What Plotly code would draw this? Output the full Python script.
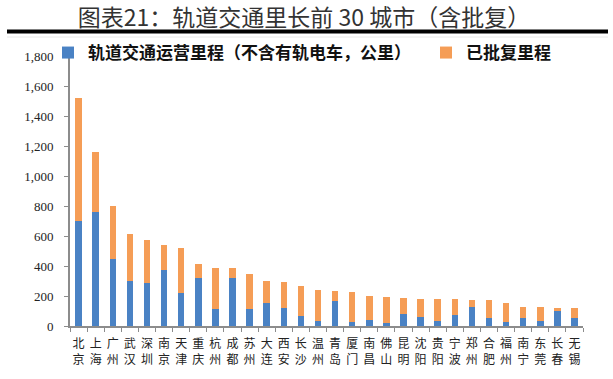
import plotly.graph_objects as go

cities = ['北京', '上海', '广州', '武汉', '深圳', '南京', '天津', '重庆', '杭州', '成都',
          '苏州', '大连', '西安', '长沙', '温州', '青岛', '厦门', '南昌', '佛山', '昆明',
          '沈阳', '贵阳', '宁波', '郑州', '合肥', '福州', '南宁', '东莞', '长春', '无锡']
operating = [702, 759, 447, 299, 288, 372, 220, 321, 112, 321,
             114, 155, 121, 67, 33, 168, 29, 40, 20, 82,
             62, 35, 74, 128, 55, 24, 55, 33, 102, 55]
approved = [819, 399, 350, 312, 283, 166, 297, 91, 272, 63,
            230, 143, 171, 198, 206, 64, 197, 161, 173, 104,
            117, 144, 105, 45, 118, 129, 71, 93, 15, 62]
y_ticks = [0, 200, 400, 600, 800, 1000, 1200, 1400, 1600, 1800]

title_text = '图表21：轨道交通里长前 30 城市（含批复）'
name_op = '轨道交通运营里程（不含有轨电车，公里）'
name_ap = '已批复里程'

CJK = 'Noto Sans CJK SC'
SERIF = 'Liberation Serif'

W, H = 613, 379
ML, MR, MT, MB = 70, 30, 56, 53
PW, PH = W - ML - MR, H - MT - MB


def px_x(x):
    return (x - ML) / PW


def px_y(y):
    return (H - MB - y) / PH


fig = go.Figure()
fig.add_trace(go.Bar(x=cities, y=operating, name=name_op, legend='legend',
                     marker=dict(color='#4A82C4', line=dict(width=0))))
fig.add_trace(go.Bar(x=cities, y=approved, name=name_ap, legend='legend2',
                     marker=dict(color='#F59D56', line=dict(width=0))))

leg_common = dict(orientation='h', xanchor='left', yanchor='middle',
                  font=dict(family=CJK, size=17, color='#111', weight='bold'),
                  itemwidth=30, bgcolor='rgba(0,0,0,0)')

fig.update_layout(
    barmode='stack',
    bargap=0.62,
    width=W, height=H,
    margin=dict(l=ML, r=MR, t=MT, b=MB, autoexpand=False),
    paper_bgcolor='white',
    plot_bgcolor='white',
    showlegend=True,
    legend=dict(x=px_x(48), y=px_y(53), **leg_common),
    legend2=dict(x=px_x(426), y=px_y(53), **leg_common),
    title=dict(text=title_text, x=304 / W, xanchor='center',
               y=1 - 17.5 / H, yanchor='middle',
               font=dict(family=CJK, size=23, color='#333')),
    xaxis=dict(tickvals=cities, ticktext=[c[0] + '<br>' + c[1] for c in cities],
               tickangle=0, ticklabelstandoff=6,
               tickfont=dict(family=CJK, size=12, color='#222'),
               showline=True, linecolor='#8c8c8c', linewidth=2,
               ticks='outside', ticklen=4, tickcolor='#8c8c8c', tickwidth=1,
               tickson='boundaries', showgrid=False, fixedrange=True),
    yaxis=dict(range=[0, 1800], tickvals=y_ticks, tickformat=',d',
               ticklabelstandoff=8,
               tickfont=dict(family=SERIF, size=13, color='#222'),
               showline=True, linecolor='#8c8c8c', linewidth=2,
               ticks='outside', ticklen=4, tickcolor='#8c8c8c', tickwidth=1,
               showgrid=False, zeroline=False, fixedrange=True),
    shapes=[
        dict(type='line', xref='paper', yref='paper', x0=px_x(7), x1=px_x(608),
             y0=px_y(31.5), y1=px_y(31.5),
             line=dict(color='black', width=4)),
        dict(type='line', xref='paper', yref='paper', x0=px_x(7), x1=px_x(608),
             y0=px_y(37), y1=px_y(37),
             line=dict(color='#e8e8e8', width=1)),
    ],
)

fig.write_html('out.html', config={'displayModeBar': False},
               post_script="document.body.style.margin='0';")
